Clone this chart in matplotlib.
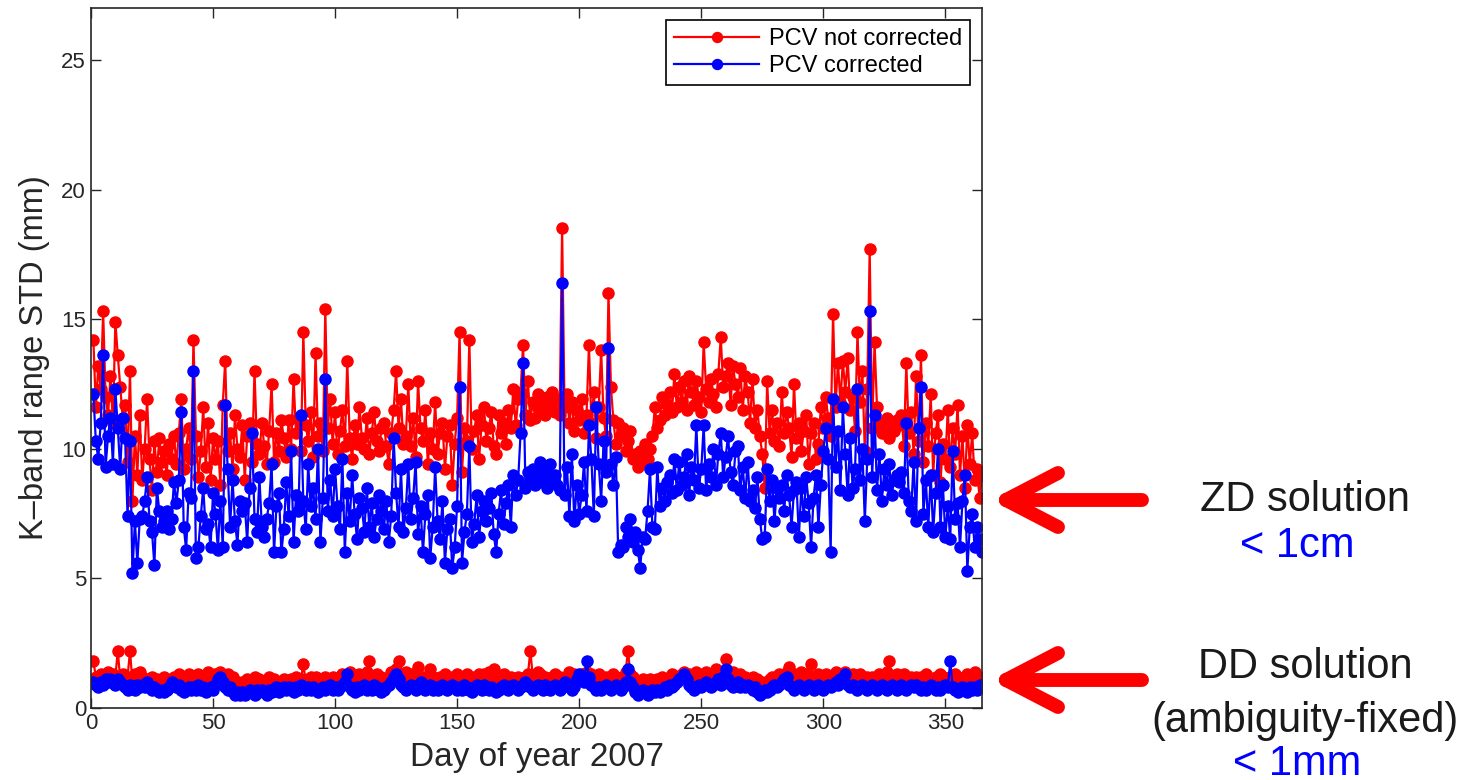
import matplotlib
matplotlib.use("Agg")
import matplotlib.pyplot as plt
from matplotlib.lines import Line2D

plt.rcParams['font.family'] = ['Liberation Sans', 'DejaVu Sans']

# ZD solution, PCV not corrected (days 1..365)
zd_not = [
    14.2, 11.6, 13.2, 12.3, 15.3, 12.0, 11.3, 12.8, 11.0, 14.9,
    13.6, 12.4, 11.2, 11.7, 9.5, 13.0, 8.0, 10.5, 9.0, 11.3,
    8.8, 10.0, 11.9, 9.6, 8.4, 10.3, 9.1, 10.4, 9.5, 9.9,
    9.0, 10.2, 9.6, 10.5, 9.4, 10.6, 11.9, 9.2, 10.0, 10.8,
    9.6, 14.2, 10.5, 8.9, 9.9, 11.6, 9.3, 11.0, 8.8, 10.4,
    9.6, 10.3, 8.6, 11.7, 13.4, 9.9, 10.6, 9.2, 11.3, 10.0,
    9.7, 10.9, 8.8, 10.5, 11.0, 9.5, 13.0, 10.2, 9.8, 11.0,
    10.1, 9.4, 10.7, 12.5, 9.5, 10.6, 9.9, 11.1, 10.4, 9.7,
    11.1, 10.0, 12.7, 10.6, 11.2, 9.9, 14.5, 10.9, 10.3, 11.4,
    9.7, 13.7, 10.5, 11.0, 9.9, 15.4, 10.8, 11.9, 10.2, 11.4,
    9.8, 10.7, 11.5, 10.1, 13.4, 10.4, 9.6, 10.9, 10.2, 11.6,
    10.4, 10.0, 11.2, 9.8, 10.6, 11.4, 10.3, 9.9, 10.8, 11.0,
    10.1, 9.4, 10.6, 11.5, 13.0, 10.8, 11.9, 10.2, 10.5, 12.5,
    10.1, 11.2, 9.7, 12.6, 10.8, 10.3, 11.5, 9.4, 10.6, 10.0,
    11.8, 9.8, 10.6, 11.0, 9.2, 10.5, 10.9, 8.6, 10.2, 11.2,
    14.5, 9.1, 10.8, 10.3, 14.2, 10.0, 10.7, 11.3, 9.6, 10.9,
    11.6, 10.3, 10.8, 11.4, 10.1, 9.8, 11.3, 10.6, 11.0, 10.2,
    11.5, 10.8, 12.3, 10.9, 11.9, 12.2, 14.0, 11.3, 12.6, 11.1,
    11.8, 11.2, 12.1, 11.5, 11.9, 11.3, 12.0, 11.6, 12.2, 11.4,
    11.9, 11.3, 18.5, 11.6, 12.1, 11.0, 11.8, 10.7, 11.5, 11.1,
    11.9, 10.6, 11.3, 14.0, 11.0, 12.2, 10.4, 11.6, 13.8, 11.2,
    10.5, 16.0, 12.4, 11.1, 10.2, 11.0, 10.5, 10.8, 9.9, 10.3,
    10.7, 9.6, 9.8, 9.3, 9.9, 9.5, 10.2, 9.6, 10.0, 10.5,
    11.6, 10.8, 11.1, 12.0, 11.3, 11.7, 12.2, 11.4, 12.9, 11.6,
    12.4, 11.8, 12.6, 11.5, 12.8, 12.2, 11.7, 12.6, 12.0, 11.4,
    14.1, 12.3, 11.8, 12.7, 12.1, 11.6, 12.9, 14.3, 12.4, 12.8,
    13.3, 11.7, 13.2, 12.5, 12.0, 13.1, 11.5, 12.8, 12.2, 11.0,
    12.7, 10.8, 11.5, 10.5, 9.8, 8.5, 12.6, 10.6, 11.5, 10.3,
    11.0, 10.1, 12.2, 10.6, 11.4, 10.8, 9.7, 12.5, 10.4, 11.0,
    9.9, 10.7, 11.3, 9.4, 10.6, 11.0, 9.6, 10.2, 11.6, 10.8,
    12.0, 11.2, 10.5, 15.2, 11.6, 13.3, 11.8, 13.4, 12.2, 13.5,
    11.5, 12.0, 10.7, 14.5, 11.8, 13.0, 9.9, 12.3, 17.7, 10.8,
    14.1, 11.6, 11.0, 10.6, 10.9, 11.2, 10.4, 11.0, 10.7, 11.1,
    10.9, 11.3, 10.1, 13.3, 10.6, 11.4, 9.8, 12.8, 10.3, 13.6,
    9.5, 11.0, 10.1, 12.1, 9.0, 10.6, 11.3, 8.7, 10.2, 9.6,
    11.5, 9.3, 10.8, 9.8, 11.7, 9.0, 10.5, 8.5, 10.9, 9.4,
    10.6, 8.8, 9.2, 8.1, 9.0,
]

# ZD solution, PCV corrected
zd_cor = [
    12.1, 10.3, 9.6, 11.0, 13.6, 9.3, 10.5, 11.2, 9.4, 12.3,
    10.8, 9.2, 11.2, 10.4, 7.4, 10.3, 5.2, 7.2, 5.6, 7.3,
    7.4, 8.0, 8.9, 7.2, 6.8, 5.5, 8.5, 7.6, 7.0, 7.2,
    7.6, 6.9, 7.3, 8.7, 7.9, 8.8, 11.4, 7.0, 6.1, 8.3,
    8.1, 13.0, 5.8, 6.2, 7.4, 8.5, 6.9, 7.1, 6.2, 8.3,
    7.5, 6.1, 8.0, 6.2, 11.7, 9.2, 7.0, 8.8, 7.2, 6.3,
    8.0, 7.6, 7.9, 6.4, 8.5, 10.6, 7.3, 6.8, 8.9, 7.0,
    6.6, 7.3, 7.9, 9.4, 6.0, 7.8, 8.3, 6.0, 6.9, 8.7,
    7.4, 9.9, 6.4, 8.2, 7.6, 11.3, 8.0, 6.9, 9.4, 7.8,
    8.5, 7.3, 10.0, 6.4, 8.1, 12.7, 7.6, 8.8, 7.4, 9.2,
    7.8, 6.9, 9.6, 6.0, 8.3, 7.2, 9.0, 7.5, 6.5, 8.1,
    7.7, 6.8, 8.5, 7.0, 7.9, 6.6, 7.3, 8.2, 7.6, 6.9,
    8.0, 6.4, 7.4, 10.4, 8.3, 7.0, 9.2, 6.8, 7.7, 9.4,
    7.3, 8.1, 9.5, 6.7, 7.8, 6.0, 7.5, 8.2, 5.8, 7.0,
    9.3, 7.2, 6.5, 8.0, 5.6, 6.9, 7.3, 5.4, 6.2, 7.8,
    12.4, 5.6, 6.8, 7.5, 10.1, 6.4, 7.1, 8.2, 6.6, 7.6,
    8.0, 7.2, 7.7, 8.3, 6.7, 6.0, 7.5, 8.4, 7.1, 7.9,
    8.6, 7.0, 9.0, 8.2, 8.8, 10.6, 13.3, 8.5, 9.1, 8.7,
    9.2, 8.6, 8.9, 9.5, 8.7, 9.1, 8.5, 9.4, 8.8, 9.0,
    8.6, 8.4, 16.4, 8.2, 9.3, 7.4, 9.8, 7.2, 8.6, 7.5,
    8.2, 9.5, 7.6, 10.9, 9.6, 7.4, 11.6, 9.4, 8.0, 10.3,
    9.1, 13.9, 9.4, 8.6, 9.7, 6.0, 6.3, 6.2, 7.0, 6.6,
    7.3, 6.4, 6.8, 6.1, 5.4, 6.6, 6.5, 7.6, 9.2, 7.0,
    6.9, 9.3, 7.8, 8.5, 8.0, 8.7, 9.0, 8.3, 9.6, 8.4,
    9.5, 8.6, 8.9, 9.8, 8.2, 9.3, 8.8, 10.9, 8.5, 9.2,
    10.9, 8.4, 9.4, 8.9, 10.0, 8.6, 9.8, 10.6, 8.9, 9.7,
    10.5, 9.1, 8.6, 9.9, 10.1, 8.4, 9.3, 8.1, 9.5, 8.0,
    8.4, 7.7, 8.9, 7.3, 6.5, 6.6, 9.2, 8.0, 8.8, 7.2,
    8.5, 8.1, 8.6, 7.6, 9.0, 8.2, 7.0, 8.4, 8.7, 6.6,
    8.5, 7.4, 8.9, 7.9, 6.2, 8.1, 9.0, 7.0, 8.6, 9.9,
    10.8, 9.6, 6.0, 11.9, 9.3, 10.7, 8.4, 11.6, 9.8, 8.2,
    10.4, 8.5, 9.2, 12.3, 8.8, 10.0, 7.2, 9.6, 15.3, 8.9,
    11.3, 8.4, 9.8, 8.0, 9.2, 8.6, 9.4, 8.2, 8.8, 9.0,
    8.7, 9.1, 8.3, 11.0, 8.0, 7.6, 9.5, 7.2, 10.8, 12.4,
    7.5, 8.8, 7.0, 9.0, 6.8, 8.3, 10.0, 7.0, 8.6, 6.6,
    7.8, 6.5, 9.9, 7.3, 7.9, 6.2, 8.0, 9.0, 5.3, 7.0,
    7.5, 6.2, 7.0, 6.5, 6.0,
]

# DD solution (ambiguity-fixed), PCV not corrected
dd_not = [
    1.8, 1.2, 1.1, 1.3, 1.0, 1.2, 1.4, 1.1, 1.3, 1.2,
    2.2, 1.1, 1.3, 1.0, 1.2, 2.2, 1.0, 1.3, 1.1, 1.4,
    1.2, 1.0, 1.1, 0.9, 1.2, 1.0, 1.1, 0.9, 1.0, 1.2,
    1.1, 0.9, 1.0, 1.2, 1.1, 1.3, 1.0, 1.2, 1.1, 1.3,
    1.0, 1.2, 1.1, 1.3, 1.2, 1.0, 1.1, 1.4, 1.2, 1.1,
    1.3, 1.0, 1.4, 1.2, 1.1, 1.3, 1.0, 1.2, 0.9, 1.0,
    0.8, 1.0, 0.9, 1.1, 0.8, 1.0, 1.2, 0.9, 1.1, 1.0,
    1.0, 0.9, 1.2, 0.9, 1.1, 1.0, 0.8, 1.0, 1.1, 1.0,
    0.9, 1.1, 1.0, 1.2, 1.0, 1.1, 1.7, 1.0, 1.1, 1.2,
    1.0, 1.2, 1.1, 0.9, 1.1, 1.2, 1.0, 1.1, 1.2, 1.0,
    1.1, 1.0, 1.3, 1.2, 1.1, 1.4, 1.0, 1.2, 1.1, 1.3,
    1.2, 1.0, 1.4, 1.8, 1.2, 1.1, 1.3, 1.0, 1.2, 1.1,
    1.0, 1.2, 1.4, 1.3, 1.5, 1.8, 1.2, 1.1, 1.4, 1.2,
    1.3, 1.1, 1.2, 1.6, 1.0, 1.2, 1.1, 1.0, 1.5, 1.2,
    1.1, 1.0, 1.2, 1.1, 1.3, 1.0, 1.2, 1.1, 1.2, 1.3,
    1.1, 1.2, 1.0, 1.3, 1.2, 1.1, 1.2, 1.0, 1.3, 1.2,
    1.3, 1.1, 1.4, 1.2, 1.5, 1.0, 1.2, 1.1, 1.3, 1.2,
    1.1, 1.2, 1.0, 1.1, 1.2, 1.0, 1.1, 1.2, 1.3, 2.2,
    1.2, 1.1, 1.4, 1.3, 1.1, 1.2, 1.0, 1.1, 1.2, 1.3,
    1.1, 1.2, 1.0, 1.1, 1.2, 1.4, 1.2, 1.3, 1.1, 1.2,
    1.3, 1.1, 1.4, 1.2, 1.3, 1.2, 1.1, 1.3, 1.2, 1.1,
    1.2, 1.0, 1.1, 1.3, 1.2, 1.1, 1.0, 1.2, 1.4, 2.2,
    1.3, 1.2, 1.0, 0.9, 1.0, 1.1, 0.9, 1.0, 1.1, 1.0,
    0.9, 1.1, 1.0, 1.2, 1.1, 1.0, 1.2, 1.3, 1.1, 1.2,
    1.1, 1.3, 1.4, 1.2, 1.3, 1.1, 1.2, 1.4, 1.3, 1.2,
    1.1, 1.4, 1.2, 1.3, 1.1, 1.5, 1.2, 1.3, 1.4, 1.9,
    1.3, 1.2, 1.4, 1.1, 1.2, 1.3, 1.1, 1.2, 1.0, 1.1,
    1.2, 1.0, 1.1, 0.9, 1.0, 0.9, 1.0, 1.1, 1.2, 1.0,
    1.1, 1.3, 1.2, 1.1, 1.4, 1.6, 1.2, 1.3, 1.1, 1.2,
    1.4, 1.1, 1.3, 1.2, 1.7, 1.2, 1.1, 1.3, 1.2, 1.1,
    1.3, 1.2, 1.1, 1.2, 1.4, 1.0, 1.2, 1.3, 1.4, 1.2,
    1.1, 1.3, 1.2, 1.1, 1.3, 1.2, 1.0, 1.2, 1.1, 1.2,
    1.1, 1.2, 1.3, 1.1, 1.2, 1.4, 1.8, 1.2, 1.1, 1.3,
    1.2, 1.1, 1.3, 1.2, 1.1, 1.2, 1.0, 1.2, 1.1, 1.2,
    1.1, 1.3, 1.2, 1.1, 1.0, 1.2, 1.1, 1.3, 1.2, 1.1,
    1.0, 1.2, 1.1, 1.3, 1.2, 1.0, 1.1, 1.2, 1.3, 1.1,
    1.2, 1.4, 1.1, 1.2, 1.0,
]

# DD solution (ambiguity-fixed), PCV corrected
dd_cor = [
    1.0, 0.9, 0.8, 1.0, 0.9, 1.1, 1.0, 1.1, 1.0, 0.9,
    1.1, 1.0, 0.9, 0.8, 0.7, 0.9, 0.8, 0.7, 0.9, 0.8,
    0.9, 0.8, 1.0, 0.8, 0.7, 0.8, 0.7, 0.6, 0.7, 0.6,
    0.7, 0.8, 1.0, 0.9, 0.8, 0.9, 0.7, 0.6, 0.7, 0.8,
    0.7, 0.8, 0.7, 0.9, 0.7, 0.8, 0.6, 0.7, 0.8, 0.7,
    0.9, 1.1, 1.2, 1.0, 0.8, 0.7, 0.8, 0.6, 0.5, 0.6,
    0.5, 0.6, 0.5, 0.6, 0.7, 0.6, 0.5, 0.7, 0.6, 0.7,
    0.6, 0.5, 0.7, 0.6, 0.7, 0.8, 0.6, 0.7, 0.8, 0.7,
    0.8, 0.7, 0.6, 0.8, 0.7, 0.9, 0.8, 0.7, 0.8, 0.7,
    0.8, 0.7, 0.6, 0.7, 0.8, 0.7, 0.8, 0.9, 0.7, 0.8,
    0.7, 0.8, 0.9, 1.0, 1.3, 0.8, 0.7, 0.6, 0.8, 0.7,
    0.8, 0.9, 0.7, 0.8, 0.7, 0.9, 0.8, 0.7, 0.6, 0.7,
    0.8, 0.9, 1.0, 1.2, 1.3, 1.1, 0.9, 0.8, 0.7, 0.8,
    0.9, 0.8, 0.7, 0.9, 1.0, 0.8, 0.7, 0.8, 0.9, 0.7,
    0.8, 0.7, 0.8, 0.9, 0.8, 0.7, 0.8, 0.9, 0.8, 0.7,
    0.8, 0.7, 0.9, 0.8, 0.7, 0.6, 0.8, 0.9, 0.8, 0.7,
    0.9, 0.8, 0.7, 0.8, 0.7, 0.6, 0.7, 0.8, 0.9, 0.8,
    0.7, 0.8, 0.9, 0.8, 0.7, 0.8, 0.9, 1.0, 0.9, 0.8,
    0.7, 0.8, 0.9, 0.8, 0.7, 0.9, 0.8, 0.7, 0.8, 0.9,
    0.8, 0.7, 0.9, 1.0, 0.9, 0.8, 0.7, 0.8, 1.1, 1.3,
    1.1, 1.0, 1.8, 1.2, 0.9, 0.8, 0.7, 0.8, 0.7, 0.8,
    0.9, 0.8, 0.7, 0.8, 0.9, 0.8, 0.7, 0.8, 1.0, 1.5,
    1.0, 0.8, 0.6, 0.5, 0.6, 0.7, 0.6, 0.5, 0.6, 0.7,
    0.6, 0.7, 0.6, 0.7, 0.8, 0.7, 0.9, 0.8, 0.9, 1.0,
    1.1, 1.2, 1.3, 1.1, 0.9, 0.8, 0.7, 0.8, 0.9, 0.8,
    0.9, 1.0, 0.9, 0.8, 0.9, 1.0, 1.1, 0.9, 1.2, 1.5,
    1.1, 0.9, 0.8, 0.9, 1.0, 0.8, 0.9, 0.8, 0.9, 0.8,
    0.7, 0.8, 0.6, 0.5, 0.6, 0.7, 0.6, 0.7, 0.8, 0.9,
    0.8, 0.9, 1.0, 1.1, 1.2, 0.9, 0.8, 0.7, 0.8, 0.9,
    0.8, 0.7, 0.8, 0.9, 0.8, 0.7, 0.8, 0.9, 0.8, 0.7,
    0.8, 0.9, 0.8, 0.9, 1.0, 0.9, 1.1, 1.0, 1.3, 0.9,
    0.8, 0.9, 0.8, 0.7, 0.8, 0.9, 0.8, 0.7, 0.8, 0.9,
    0.8, 0.7, 0.8, 0.9, 0.8, 0.7, 0.8, 0.9, 0.8, 0.7,
    0.8, 0.9, 0.8, 0.7, 0.8, 0.9, 0.8, 0.9, 0.8, 0.7,
    0.8, 0.7, 0.8, 0.9, 0.8, 0.7, 0.8, 0.7, 0.8, 0.9,
    0.8, 1.8, 0.8, 0.7, 0.6, 0.7, 0.8, 0.7, 0.6, 0.8,
    0.7, 0.8, 0.7, 0.9, 0.8,
]

days = list(range(1, len(zd_not) + 1))

fig = plt.figure(figsize=(14.74, 7.8), dpi=100)
ax = fig.add_axes([0.0617, 0.0923, 0.6045, 0.8974])

sty = dict(marker='o', markersize=8, linewidth=1.6)
ax.plot(days, zd_not, color='#ff0000', label='PCV not corrected', **sty)
ax.plot(days, dd_not, color='#ff0000', **sty)
ax.plot(days, zd_cor, color='#0000ff', label='PCV corrected', **sty)
ax.plot(days, dd_cor, color='#0000ff', **sty)

ax.set_xlim(0, 365)
ax.set_ylim(0, 27)
ax.set_xticks([0, 50, 100, 150, 200, 250, 300, 350])
ax.set_yticks([0, 5, 10, 15, 20, 25])
ax.tick_params(direction='in', top=True, right=True, length=7, width=1,
               labelsize=16, colors='#262626')
for s in ax.spines.values():
    s.set_color('#262626')
    s.set_linewidth(1.2)

ax.set_xlabel('Day of year 2007', fontsize=24, color='#262626', labelpad=6)
ax.set_ylabel('K\u2013band range STD (mm)', fontsize=23.5, color='#262626', labelpad=8)

leg = ax.legend(loc='upper right', fontsize=17, handlelength=3.6, markerscale=0.9,
                fancybox=False, edgecolor='black', framealpha=1,
                borderaxespad=0.5, borderpad=0.35, handletextpad=0.4,
                labelspacing=0.2)
leg.get_frame().set_linewidth(1.2)

# right-hand annotations
W, H = 1474.0, 780.0
for yp in (500, 680):
    y = 1 - yp / H
    dy = 27 / H
    for xs, ys in (([1142 / W, 1006 / W], [y, y]),
                   ([1006 / W, 1058 / W], [y, y + dy]),
                   ([1006 / W, 1058 / W], [y, y - dy])):
        fig.add_artist(Line2D(xs, ys, transform=fig.transFigure, color='#ff0000',
                              linewidth=10, solid_capstyle='round'))

txt = dict(ha='center', va='center', fontsize=30, transform=fig.transFigure)
fig.text(1305 / W, 1 - 500 / H, 'ZD solution', color='#1a1a1a', **txt)
fig.text(1297 / W, 1 - 546 / H, '< 1cm', color='#0000ff', **txt)
fig.text(1305 / W, 1 - 667 / H, 'DD solution', color='#1a1a1a', **txt)
fig.text(1305 / W, 1 - 721 / H, '(ambiguity-fixed)', color='#1a1a1a', **txt)
fig.text(1297 / W, 1 - 764 / H, '< 1mm', color='#0000ff', **txt)

fig.savefig('out.png', dpi=100)
